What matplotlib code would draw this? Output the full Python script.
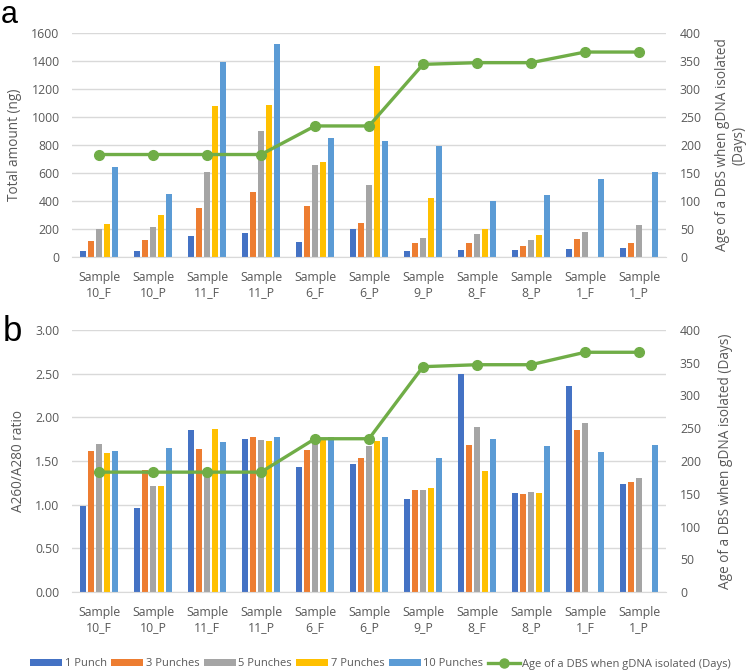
import matplotlib
matplotlib.use("Agg")
import matplotlib.pyplot as plt
import numpy as np
from matplotlib.patches import Patch
from matplotlib.lines import Line2D

plt.rcParams['font.family'] = ['Open Sans', 'DejaVu Sans']

categories = ["Sample\n10_F", "Sample\n10_P", "Sample\n11_F", "Sample\n11_P", "Sample\n6_F",
              "Sample\n6_P", "Sample\n9_P", "Sample\n8_F", "Sample\n8_P", "Sample\n1_F", "Sample\n1_P"]
series_names = ["1 Punch", "3 Punches", "5 Punches", "7 Punches", "10 Punches"]
line_name = "Age of a DBS when gDNA isolated (Days)"

# Panel a: total amount (ng)
amount_1 = [40, 43, 148, 174, 105, 202, 45, 50, 48, 55, 62]
amount_3 = [112, 121, 348, 462, 367, 245, 98, 102, 79, 129, 98]
amount_5 = [198, 214, 607, 898, 657, 514, 133, 162, 121, 179, 231]
amount_7 = [236, 302, 1076, 1088, 679, 1364, 421, 202, 157, 0, 0]
amount_10 = [643, 452, 1395, 1524, 852, 831, 793, 400, 440, 560, 607]

# Panel b: A260/A280 ratio
ratio_1 = [0.99, 0.96, 1.85, 1.75, 1.43, 1.46, 1.06, 2.50, 1.13, 2.36, 1.24]
ratio_3 = [1.61, 1.40, 1.64, 1.77, 1.63, 1.54, 1.17, 1.68, 1.12, 1.86, 1.26]
ratio_5 = [1.69, 1.21, 1.42, 1.74, 1.74, 1.67, 1.17, 1.89, 1.14, 1.94, 1.31]
ratio_7 = [1.59, 1.21, 1.87, 1.73, 1.75, 1.73, 1.19, 1.39, 1.13, 0, 0]
ratio_10 = [1.61, 1.65, 1.72, 1.78, 1.78, 1.78, 1.53, 1.75, 1.67, 1.60, 1.68]

age_days = [183, 183, 183, 183, 234, 234, 344, 347, 347, 366, 366]

colors = ["#4472C4", "#ED7D31", "#A5A5A5", "#FFC000", "#5B9BD5"]
green = "#70AD47"
txt = "#595959"
grid_c = "#D9D9D9"

fig = plt.figure(figsize=(7.46, 6.71), dpi=100)
W, H = 746, 671

def add_panel(top_px, bottom_px, data, ylim, yticks, yfmt, ylabel, rlabel, rpad):
    ax = fig.add_axes([72 / W, 1 - bottom_px / H, (666 - 72) / W, (bottom_px - top_px) / H])
    x = np.arange(len(categories))
    slot = 0.148
    bw = 0.125
    for i, (vals, c) in enumerate(zip(data, colors)):
        ax.bar(x + (i - 2) * slot, vals, width=bw, color=c, zorder=2)
    ax.set_xlim(-0.5, len(categories) - 0.5)
    ax.set_ylim(*ylim)
    ax.set_yticks(yticks)
    ax.set_yticklabels([yfmt.format(v) for v in yticks])
    ax.set_xticks(x)
    ax.set_xticklabels(categories, linespacing=1.2)
    ax.grid(axis='y', color=grid_c, linewidth=1, zorder=0)
    ax.set_axisbelow(True)
    for s in ['top', 'right', 'left']:
        ax.spines[s].set_visible(False)
    ax.spines['bottom'].set_color(grid_c)
    ax.tick_params(axis='both', length=0, labelsize=8.8, colors=txt)
    ax.tick_params(axis='y', pad=9)
    ax.tick_params(axis='x', pad=10)
    ax.set_ylabel(ylabel, fontsize=9.8, color=txt, labelpad=7)

    ax2 = ax.twinx()
    ax2.plot(x, age_days, color=green, linewidth=2.4, marker='o', markersize=7, zorder=3)
    ax2.set_ylim(0, 400)
    ax2.set_yticks(range(0, 401, 50))
    for s in ['top', 'right', 'left', 'bottom']:
        ax2.spines[s].set_visible(False)
    ax2.tick_params(axis='y', length=0, labelsize=8.8, colors=txt, pad=10)
    ax2.set_ylabel(rlabel, fontsize=9.8, color=txt, labelpad=rpad, linespacing=1.15,
                   ha='center')
    return ax, ax2

axa, axa2 = add_panel(33, 257, [amount_1, amount_3, amount_5, amount_7, amount_10],
                      (0, 1600), list(range(0, 1601, 200)), "{:.0f}",
                      "Total amount (ng)", "Age of a DBS when gDNA isolated\n(Days)", 10)
axb, axb2 = add_panel(330, 592, [ratio_1, ratio_3, ratio_5, ratio_7, ratio_10],
                      (0, 3.0), [0, 0.5, 1.0, 1.5, 2.0, 2.5, 3.0], "{:.2f}",
                      "A260/A280 ratio", line_name, 12)

fig.text(1 / W, 1 - 23 / H, "a", fontsize=22, color="black", ha='left', va='baseline',
         family=['Liberation Sans', 'DejaVu Sans'])
fig.text(3 / W, 1 - 341 / H, "b", fontsize=25, color="black", ha='left', va='baseline',
         family=['Liberation Sans', 'DejaVu Sans'])

handles = [Patch(facecolor=c, edgecolor='none') for c in colors]
handles.append(Line2D([0], [0], color=green, linewidth=2.4, marker='o', markersize=6.5))
labels = series_names + [line_name]
leg = fig.legend(handles, labels, loc='center', bbox_to_anchor=(0.51, 1 - 664 / H), ncol=6,
                 frameon=False, fontsize=8.0, handlelength=2.9, handleheight=0.6,
                 handletextpad=0.2, columnspacing=0.4, borderaxespad=0)
for t in leg.get_texts():
    t.set_color(txt)

fig.savefig("out.png", dpi=100)
